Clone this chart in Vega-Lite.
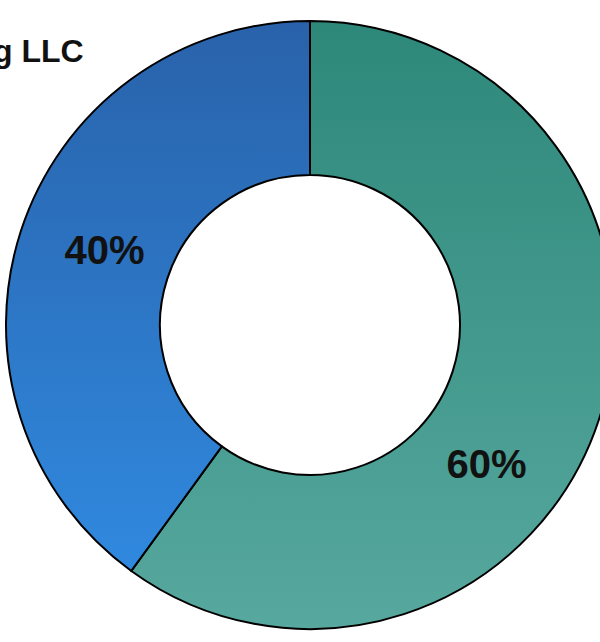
{
  "$schema": "https://vega.github.io/schema/vega-lite/v6.json",
  "width": 620,
  "height": 650,
  "autosize": "none",
  "padding": 0,
  "background": "white",
  "title": {
    "text": "g LLC",
    "anchor": "start",
    "frame": "group",
    "orient": "top",
    "offset": -94,
    "dx": -7,
    "fontSize": 32,
    "fontWeight": "bold",
    "font": "Liberation Sans",
    "color": "#111111",
    "baseline": "alphabetic"
  },
  "data": {
    "values": [
      {"segment": "B", "share": 60, "label": "60%", "order": 1},
      {"segment": "A", "share": 40, "label": "40%", "order": 2}
    ]
  },
  "encoding": {
    "theta": {"field": "share", "type": "quantitative", "stack": true},
    "order": {"field": "order", "type": "quantitative"}
  },
  "layer": [
    {
      "mark": {"type": "arc", "outerRadius": 304, "innerRadius": 150, "stroke": "#000000", "strokeWidth": 2},
      "encoding": {
        "fill": {
          "condition": {
            "test": "datum.segment === 'A'",
            "value": {"gradient": "linear", "x1": 0, "y1": 0, "x2": 0, "y2": 1,
              "stops": [{"offset": 0, "color": "#2962aa"}, {"offset": 1, "color": "#3089df"}]}
          },
          "value": {"gradient": "linear", "x1": 0, "y1": 0, "x2": 0, "y2": 1,
            "stops": [{"offset": 0, "color": "#2d887a"}, {"offset": 1, "color": "#57a89e"}]}
        }
      }
    },
    {
      "mark": {
        "type": "text",
        "radius": 216,
        "font": "Liberation Sans",
        "fontSize": 40,
        "fontWeight": "bold",
        "color": "#111111",
        "baseline": "middle",
        "align": "center",
        "dx": {"expr": "datum.segment === 'B' ? -29 : 0"},
        "dy": {"expr": "datum.segment === 'B' ? 74 : -6"}
      },
      "encoding": {
        "text": {"field": "label", "type": "nominal"}
      }
    }
  ]
}
